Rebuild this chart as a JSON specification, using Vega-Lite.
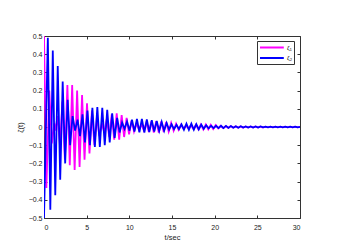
{
 "$schema": "https://vega.github.io/schema/vega-lite/v6.json",
 "width": 256, "height": 182,
 "autosize": {"type": "none"},
 "padding": {"left": 44, "top": 36, "right": 52, "bottom": 33},
 "background": "white",
 "config": {
  "font": "Liberation Sans",
  "view": {"stroke": "#333", "strokeWidth": 1},
  "axis": {"grid": false, "domain": false, "tickColor": "#333", "tickSize": -3, "labelFontSize": 7, "labelColor": "#222", "titleFontSize": 7.5, "titleFontWeight": "normal", "titleColor": "#222"}
 },
 "datasets": {
  "d": [
   {"s":"ζ₁","t":0,"v":0.5},{"s":"ζ₁","t":0.28,"v":-0.335},{"s":"ζ₁","t":0.62,"v":0.2},{"s":"ζ₁","t":0.92,"v":-0.09},{"s":"ζ₁","t":1.2,"v":0.02},{"s":"ζ₁","t":1.35,"v":-0.02},{"s":"ζ₁","t":1.58,"v":0.06},{"s":"ζ₁","t":1.87,"v":-0.1},{"s":"ζ₁","t":2.16,"v":0.14},{"s":"ζ₁","t":2.45,"v":-0.18},{"s":"ζ₁","t":2.74,"v":0.23},{"s":"ζ₁","t":3.02,"v":-0.21},{"s":"ζ₁","t":3.3,"v":0.23},{"s":"ζ₁","t":3.59,"v":-0.236},{"s":"ζ₁","t":3.88,"v":0.2},{"s":"ζ₁","t":4.17,"v":-0.22},{"s":"ζ₁","t":4.46,"v":0.176},{"s":"ζ₁","t":4.75,"v":-0.18},{"s":"ζ₁","t":5.04,"v":0.13},{"s":"ζ₁","t":5.33,"v":-0.145},{"s":"ζ₁","t":5.62,"v":0.09},{"s":"ζ₁","t":5.91,"v":-0.1},{"s":"ζ₁","t":6.2,"v":0.055},{"s":"ζ₁","t":6.49,"v":-0.05},{"s":"ζ₁","t":6.78,"v":0.02},{"s":"ζ₁","t":7.07,"v":-0.03},{"s":"ζ₁","t":7.36,"v":0.045},{"s":"ζ₁","t":7.65,"v":-0.055},{"s":"ζ₁","t":7.94,"v":0.07},{"s":"ζ₁","t":8.23,"v":-0.07},{"s":"ζ₁","t":8.52,"v":0.075},{"s":"ζ₁","t":8.81,"v":-0.07},{"s":"ζ₁","t":9.1,"v":0.065},{"s":"ζ₁","t":9.39,"v":-0.055},{"s":"ζ₁","t":9.68,"v":0.05},{"s":"ζ₁","t":9.97,"v":-0.04},{"s":"ζ₁","t":10.26,"v":0.035},{"s":"ζ₁","t":10.55,"v":-0.025},{"s":"ζ₁","t":10.84,"v":0.02},{"s":"ζ₁","t":11.13,"v":-0.015},{"s":"ζ₁","t":11.42,"v":0.015},{"s":"ζ₁","t":11.71,"v":-0.02},{"s":"ζ₁","t":12.0,"v":0.025},{"s":"ζ₁","t":12.29,"v":-0.028},{"s":"ζ₁","t":12.58,"v":0.03},{"s":"ζ₁","t":12.87,"v":-0.03},{"s":"ζ₁","t":13.16,"v":0.032},{"s":"ζ₁","t":13.45,"v":-0.03},{"s":"ζ₁","t":13.74,"v":0.03},{"s":"ζ₁","t":14.03,"v":-0.028},{"s":"ζ₁","t":14.32,"v":0.027},{"s":"ζ₁","t":14.61,"v":-0.025},{"s":"ζ₁","t":14.9,"v":0.023},{"s":"ζ₁","t":15.19,"v":-0.02},{"s":"ζ₁","t":15.48,"v":0.018},{"s":"ζ₁","t":15.77,"v":-0.015},{"s":"ζ₁","t":16.06,"v":0.012},{"s":"ζ₁","t":16.35,"v":-0.01},{"s":"ζ₁","t":16.64,"v":0.008},{"s":"ζ₁","t":16.93,"v":-0.008},{"s":"ζ₁","t":17.22,"v":0.01},{"s":"ζ₁","t":17.51,"v":-0.011},{"s":"ζ₁","t":17.8,"v":0.012},{"s":"ζ₁","t":18.09,"v":-0.013},{"s":"ζ₁","t":18.38,"v":0.014},{"s":"ζ₁","t":18.67,"v":-0.014},{"s":"ζ₁","t":18.96,"v":0.014},{"s":"ζ₁","t":19.25,"v":-0.013},{"s":"ζ₁","t":19.54,"v":0.012},{"s":"ζ₁","t":19.83,"v":-0.011},{"s":"ζ₁","t":20.12,"v":0.01},{"s":"ζ₁","t":20.41,"v":-0.008},{"s":"ζ₁","t":20.7,"v":0.007},{"s":"ζ₁","t":20.99,"v":-0.006},{"s":"ζ₁","t":21.28,"v":0.005},{"s":"ζ₁","t":21.57,"v":-0.005},{"s":"ζ₁","t":21.86,"v":0.005},{"s":"ζ₁","t":22.15,"v":-0.004},{"s":"ζ₁","t":22.44,"v":0.004},{"s":"ζ₁","t":22.73,"v":-0.004},{"s":"ζ₁","t":23.02,"v":0.004},{"s":"ζ₁","t":23.31,"v":-0.004},{"s":"ζ₁","t":23.6,"v":0.003},{"s":"ζ₁","t":23.89,"v":-0.003},{"s":"ζ₁","t":24.18,"v":0.003},{"s":"ζ₁","t":24.47,"v":-0.003},{"s":"ζ₁","t":24.76,"v":0.003},{"s":"ζ₁","t":25.05,"v":-0.003},{"s":"ζ₁","t":25.34,"v":0.003},{"s":"ζ₁","t":25.63,"v":-0.003},{"s":"ζ₁","t":25.92,"v":0.002},{"s":"ζ₁","t":26.21,"v":-0.002},{"s":"ζ₁","t":26.5,"v":0.002},{"s":"ζ₁","t":26.79,"v":-0.002},{"s":"ζ₁","t":27.08,"v":0.002},{"s":"ζ₁","t":27.37,"v":-0.002},{"s":"ζ₁","t":27.66,"v":0.002},{"s":"ζ₁","t":27.95,"v":-0.002},{"s":"ζ₁","t":28.24,"v":0.002},{"s":"ζ₁","t":28.53,"v":-0.002},{"s":"ζ₁","t":28.82,"v":0.002},{"s":"ζ₁","t":29.11,"v":-0.002},{"s":"ζ₁","t":29.4,"v":0.002},{"s":"ζ₁","t":29.69,"v":-0.002},{"s":"ζ₁","t":30,"v":0.001},
   {"s":"ζ₂","t":0,"v":-0.5},{"s":"ζ₂","t":0.45,"v":0.49},{"s":"ζ₂","t":0.74,"v":-0.455},{"s":"ζ₂","t":1.03,"v":0.42},{"s":"ζ₂","t":1.32,"v":-0.375},{"s":"ζ₂","t":1.61,"v":0.335},{"s":"ζ₂","t":1.9,"v":-0.29},{"s":"ζ₂","t":2.19,"v":0.25},{"s":"ζ₂","t":2.48,"v":-0.2},{"s":"ζ₂","t":2.77,"v":0.15},{"s":"ζ₂","t":3.06,"v":-0.1},{"s":"ζ₂","t":3.35,"v":0.06},{"s":"ζ₂","t":3.64,"v":-0.02},{"s":"ζ₂","t":3.93,"v":0.04},{"s":"ζ₂","t":4.22,"v":-0.05},{"s":"ζ₂","t":4.51,"v":0.07},{"s":"ζ₂","t":4.8,"v":-0.085},{"s":"ζ₂","t":5.09,"v":0.09},{"s":"ζ₂","t":5.38,"v":-0.1},{"s":"ζ₂","t":5.67,"v":0.105},{"s":"ζ₂","t":5.96,"v":-0.11},{"s":"ζ₂","t":6.25,"v":0.11},{"s":"ζ₂","t":6.54,"v":-0.11},{"s":"ζ₂","t":6.83,"v":0.105},{"s":"ζ₂","t":7.12,"v":-0.1},{"s":"ζ₂","t":7.41,"v":0.095},{"s":"ζ₂","t":7.7,"v":-0.085},{"s":"ζ₂","t":7.99,"v":0.075},{"s":"ζ₂","t":8.28,"v":-0.06},{"s":"ζ₂","t":8.57,"v":0.05},{"s":"ζ₂","t":8.86,"v":-0.03},{"s":"ζ₂","t":9.15,"v":0.025},{"s":"ζ₂","t":9.44,"v":-0.01},{"s":"ζ₂","t":9.73,"v":0.03},{"s":"ζ₂","t":10.02,"v":-0.02},{"s":"ζ₂","t":10.31,"v":0.04},{"s":"ζ₂","t":10.6,"v":-0.025},{"s":"ζ₂","t":10.89,"v":0.045},{"s":"ζ₂","t":11.18,"v":-0.03},{"s":"ζ₂","t":11.47,"v":0.045},{"s":"ζ₂","t":11.76,"v":-0.03},{"s":"ζ₂","t":12.05,"v":0.042},{"s":"ζ₂","t":12.34,"v":-0.028},{"s":"ζ₂","t":12.63,"v":0.038},{"s":"ζ₂","t":12.92,"v":-0.025},{"s":"ζ₂","t":13.21,"v":0.033},{"s":"ζ₂","t":13.5,"v":-0.022},{"s":"ζ₂","t":13.79,"v":0.028},{"s":"ζ₂","t":14.08,"v":-0.02},{"s":"ζ₂","t":14.37,"v":0.022},{"s":"ζ₂","t":14.66,"v":-0.015},{"s":"ζ₂","t":14.95,"v":0.015},{"s":"ζ₂","t":15.24,"v":-0.012},{"s":"ζ₂","t":15.53,"v":0.012},{"s":"ζ₂","t":15.82,"v":-0.012},{"s":"ζ₂","t":16.11,"v":0.015},{"s":"ζ₂","t":16.4,"v":-0.015},{"s":"ζ₂","t":16.69,"v":0.018},{"s":"ζ₂","t":16.98,"v":-0.016},{"s":"ζ₂","t":17.27,"v":0.018},{"s":"ζ₂","t":17.56,"v":-0.015},{"s":"ζ₂","t":17.85,"v":0.016},{"s":"ζ₂","t":18.14,"v":-0.013},{"s":"ζ₂","t":18.43,"v":0.013},{"s":"ζ₂","t":18.72,"v":-0.01},{"s":"ζ₂","t":19.01,"v":0.01},{"s":"ζ₂","t":19.3,"v":-0.007},{"s":"ζ₂","t":19.59,"v":0.007},{"s":"ζ₂","t":19.88,"v":-0.006},{"s":"ζ₂","t":20.17,"v":0.007},{"s":"ζ₂","t":20.46,"v":-0.006},{"s":"ζ₂","t":20.75,"v":0.007},{"s":"ζ₂","t":21.04,"v":-0.006},{"s":"ζ₂","t":21.33,"v":0.006},{"s":"ζ₂","t":21.62,"v":-0.005},{"s":"ζ₂","t":21.91,"v":0.005},{"s":"ζ₂","t":22.2,"v":-0.004},{"s":"ζ₂","t":22.49,"v":0.004},{"s":"ζ₂","t":22.78,"v":-0.004},{"s":"ζ₂","t":23.07,"v":0.004},{"s":"ζ₂","t":23.36,"v":-0.003},{"s":"ζ₂","t":23.65,"v":0.003},{"s":"ζ₂","t":23.94,"v":-0.003},{"s":"ζ₂","t":24.23,"v":0.003},{"s":"ζ₂","t":24.52,"v":-0.003},{"s":"ζ₂","t":24.81,"v":0.003},{"s":"ζ₂","t":25.1,"v":-0.003},{"s":"ζ₂","t":25.39,"v":0.003},{"s":"ζ₂","t":25.68,"v":-0.002},{"s":"ζ₂","t":25.97,"v":0.002},{"s":"ζ₂","t":26.26,"v":-0.002},{"s":"ζ₂","t":26.55,"v":0.002},{"s":"ζ₂","t":26.84,"v":-0.002},{"s":"ζ₂","t":27.13,"v":0.002},{"s":"ζ₂","t":27.42,"v":-0.002},{"s":"ζ₂","t":27.71,"v":0.002},{"s":"ζ₂","t":28.0,"v":-0.002},{"s":"ζ₂","t":28.29,"v":0.002},{"s":"ζ₂","t":28.58,"v":-0.002},{"s":"ζ₂","t":28.87,"v":0.002},{"s":"ζ₂","t":29.16,"v":-0.002},{"s":"ζ₂","t":29.45,"v":0.002},{"s":"ζ₂","t":29.74,"v":-0.002},{"s":"ζ₂","t":30,"v":0.001}
  ]
 },
 "data": {"name": "d"},
 "layer": [
  {
   "mark": {"type": "line", "strokeWidth": 1.8, "clip": true},
   "encoding": {
    "x": {"field": "t", "type": "quantitative", "scale": {"domain": [0, 30], "nice": false},
          "axis": {"orient": "bottom", "values": [0,5,10,15,20,25,30], "title": "t/sec", "labelPadding": 8, "titlePadding": 3}},
    "y": {"field": "v", "type": "quantitative", "scale": {"domain": [-0.5, 0.5], "nice": false},
          "axis": {"orient": "left", "values": [-0.5,-0.4,-0.3,-0.2,-0.1,0,0.1,0.2,0.3,0.4,0.5], "format": "~g", "title": "ζ(t)", "labelPadding": 5, "titlePadding": 4}},
    "color": {"field": "s", "type": "nominal", "scale": {"domain": ["ζ₁", "ζ₂"], "range": ["#FF00FF", "#0000FF"]},
              "legend": {"orient": "none", "legendX": 213, "legendY": 5, "title": null, "symbolType": "M-1,0H5.8", "symbolSize": 49, "symbolStrokeWidth": 2, "labelFontSize": 6, "labelOffset": 19, "rowPadding": 1.5, "padding": 2, "strokeColor": "#333", "fillColor": "white"}}
   }
  },
  {
   "mark": {"type": "point", "opacity": 0},
   "encoding": {
    "x": {"field": "t", "type": "quantitative", "axis": {"orient": "top", "values": [0,5,10,15,20,25,30], "labels": false, "title": null}},
    "y": {"field": "v", "type": "quantitative", "axis": {"orient": "right", "values": [-0.5,-0.4,-0.3,-0.2,-0.1,0,0.1,0.2,0.3,0.4,0.5], "labels": false, "title": null}}
   }
  }
 ],
 "resolve": {"axis": {"x": "independent", "y": "independent"}}
}
